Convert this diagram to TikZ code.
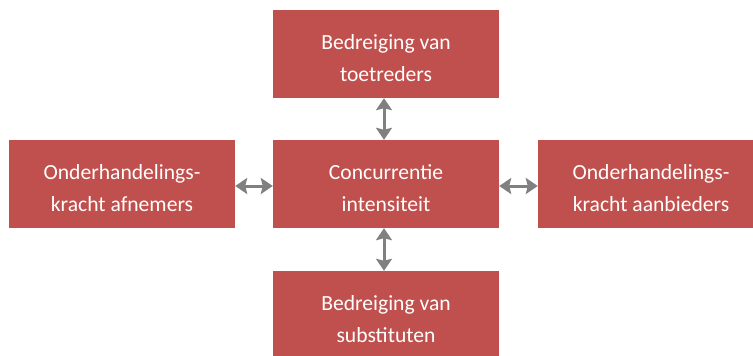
\documentclass[tikz,border=0pt]{standalone}
\usepackage{fontspec}
\setmainfont{Carlito}
\usetikzlibrary{arrows.meta}
\definecolor{boxred}{HTML}{C0504D}
\definecolor{arrgray}{HTML}{808080}
\begin{document}
\begin{tikzpicture}[x=1pt,y=-1pt,
  forcebox/.style={fill=boxred, draw=none, minimum width=226pt, minimum height=88pt, inner sep=0pt},
  forcetext/.style={text=white, inner sep=0pt, align=center, font=\fontsize{21.6pt}{32pt}\selectfont},
  dblarrow/.style={draw=arrgray, line width=3pt,
    {Stealth[inset=2pt,length=12pt,width=16pt]}-{Stealth[inset=2pt,length=12pt,width=16pt]}}]
\useasboundingbox (0,0) rectangle (753,356);
\clip (0,0) rectangle (753,356);
\node[forcebox] (top) at (386,54) {};
\node[forcebox] (mid) at (386,184) {};
\node[forcebox] (bot) at (386,315) {};
\node[forcebox] (left) at (122,184) {};
\node[forcebox] (right) at (651,184) {};
\node[forcetext] (topt) at ([yshift=-4.5pt]top.center) {Bedreiging van\\toetreders};
\node[forcetext] (midt) at ([yshift=-4.5pt]mid.center) {Concurrentie\\intensiteit};
\node[forcetext] (bott) at ([yshift=-4.5pt]bot.center) {Bedreiging van\\substituten};
\node[forcetext] (leftt) at ([yshift=-4.5pt]left.center) {Onderhandelings-\\kracht afnemers};
\node[forcetext] (rightt) at ([yshift=-4.5pt]right.center) {Onderhandelings-\\kracht aanbieders};
\draw[dblarrow] ([xshift=-2pt]top.south) -- ([xshift=-2pt]mid.north);
\draw[dblarrow] ([xshift=-2pt]mid.south) -- ([xshift=-2pt]bot.north);
\draw[dblarrow] ([yshift=-2pt]left.east) -- ([yshift=-2pt]mid.west);
\draw[dblarrow] ([yshift=-2pt]mid.east) -- ([yshift=-2pt]right.west);
\end{tikzpicture}
\end{document}
